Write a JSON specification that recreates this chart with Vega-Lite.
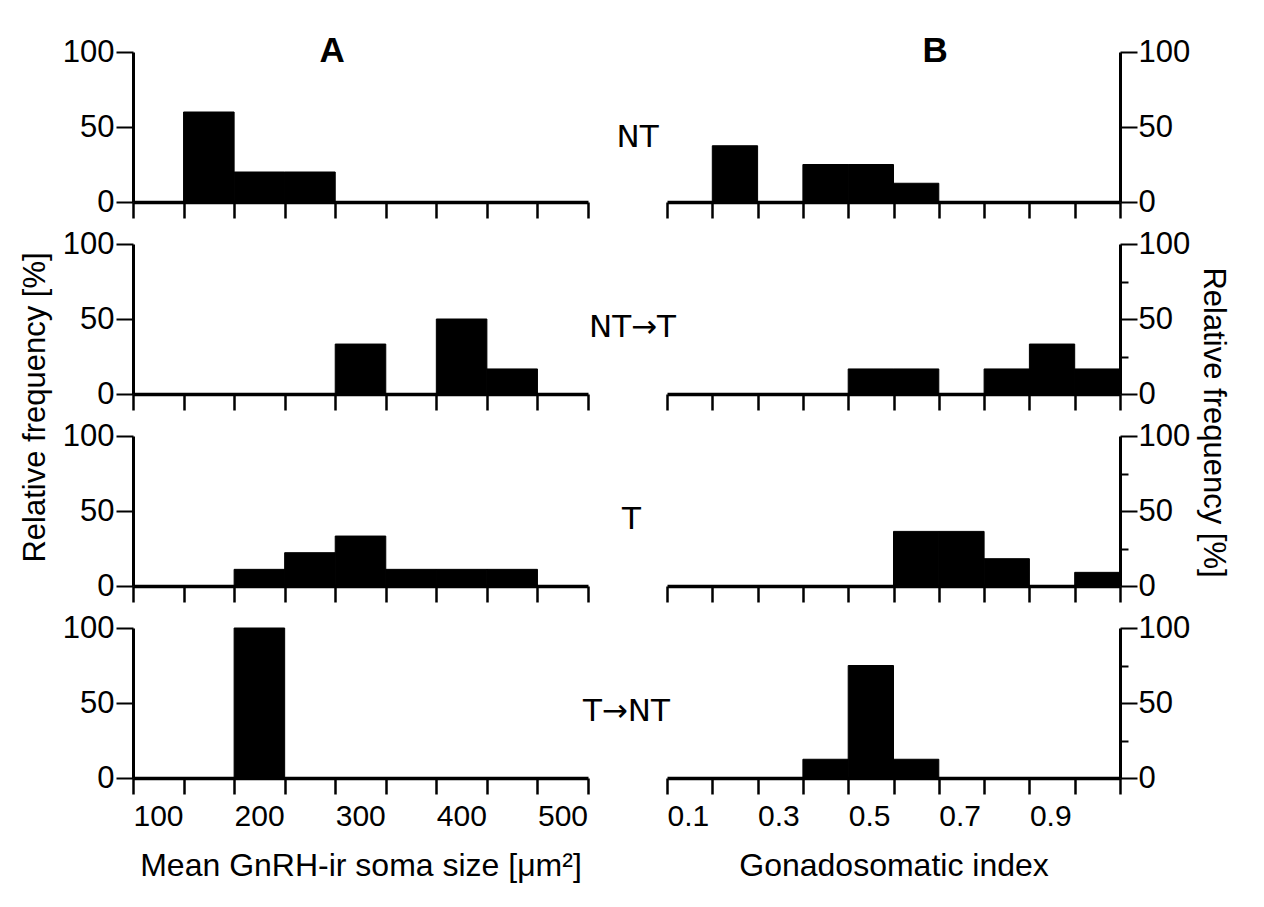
{
  "$schema": "https://vega.github.io/schema/vega-lite/v6.json",
  "padding": {"left": 19, "top": 33, "right": 14, "bottom": 8},
  "config": {
    "font": "Liberation Sans",
    "view": {"stroke": null},
    "axis": {"grid": false, "domainColor": "black", "tickColor": "black", "labelColor": "black", "titleColor": "black", "titleFontWeight": "normal", "labelFlush": false, "labelOverlap": false, "labelBound": false}
  },
  "datasets": {
    "soma": [
      {"g": "NT", "lo": 150, "hi": 200, "pct": 60},
      {"g": "NT", "lo": 200, "hi": 250, "pct": 20},
      {"g": "NT", "lo": 250, "hi": 300, "pct": 20},
      {"g": "NT→T", "lo": 300, "hi": 350, "pct": 33.3},
      {"g": "NT→T", "lo": 400, "hi": 450, "pct": 50},
      {"g": "NT→T", "lo": 450, "hi": 500, "pct": 16.7},
      {"g": "T", "lo": 200, "hi": 250, "pct": 11.1},
      {"g": "T", "lo": 250, "hi": 300, "pct": 22.2},
      {"g": "T", "lo": 300, "hi": 350, "pct": 33.3},
      {"g": "T", "lo": 350, "hi": 400, "pct": 11.1},
      {"g": "T", "lo": 400, "hi": 450, "pct": 11.1},
      {"g": "T", "lo": 450, "hi": 500, "pct": 11.1},
      {"g": "T→NT", "lo": 200, "hi": 250, "pct": 100}
    ],
    "gsi": [
      {"g": "NT", "lo": 0.2, "hi": 0.3, "pct": 37.5},
      {"g": "NT", "lo": 0.4, "hi": 0.5, "pct": 25},
      {"g": "NT", "lo": 0.5, "hi": 0.6, "pct": 25},
      {"g": "NT", "lo": 0.6, "hi": 0.7, "pct": 12.5},
      {"g": "NT→T", "lo": 0.5, "hi": 0.6, "pct": 16.7},
      {"g": "NT→T", "lo": 0.6, "hi": 0.7, "pct": 16.7},
      {"g": "NT→T", "lo": 0.8, "hi": 0.9, "pct": 16.7},
      {"g": "NT→T", "lo": 0.9, "hi": 1.0, "pct": 33.3},
      {"g": "NT→T", "lo": 1.0, "hi": 1.1, "pct": 16.7},
      {"g": "T", "lo": 0.6, "hi": 0.7, "pct": 36.4},
      {"g": "T", "lo": 0.7, "hi": 0.8, "pct": 36.4},
      {"g": "T", "lo": 0.8, "hi": 0.9, "pct": 18.2},
      {"g": "T", "lo": 1.0, "hi": 1.1, "pct": 9.1},
      {"g": "T→NT", "lo": 0.4, "hi": 0.5, "pct": 12.5},
      {"g": "T→NT", "lo": 0.5, "hi": 0.6, "pct": 75},
      {"g": "T→NT", "lo": 0.6, "hi": 0.7, "pct": 12.5}
    ]
  },
  "columns": 2,
  "spacing": {"row": 42, "column": 79},
  "bounds": "flush",
  "concat": [
    {
      "width": 455, "height": 150,
      "layer": [
        {"data": {"name": "soma"}, "transform": [{"filter": "datum.g === 'NT'"}],
         "mark": {"type": "rect", "color": "black", "stroke": "black", "strokeWidth": 1},
         "encoding": {
           "x": {"field": "lo", "type": "quantitative", "scale": {"domain": [100, 550], "nice": false, "zero": false},
                 "axis": {"values": [100,150,200,250,300,350,400,450,500,550], "labels": false, "title": null, "tickSize": 16, "tickWidth": 2.5, "domainWidth": 3.5}},
           "x2": {"field": "hi"},
           "y": {"field": "pct", "type": "quantitative", "scale": {"domain": [0, 100], "nice": false},
                 "axis": {"values": [0,25,50,75,100], "labelExpr": "datum.value % 50 === 0 ? datum.label : ''", "tickSize": {"condition": {"test": "datum.value % 50 === 0", "value": 17}, "value": 8}, "labelFontSize": 31, "labelPadding": 2, "title": null, "domainWidth": 3, "tickWidth": 2}},
           "y2": {"datum": 0}
         }},
        {"data": {"values": [{"label": "A"}]},
         "mark": {"type": "text", "fontSize": 35, "fontWeight": "bold", "baseline": "middle", "align": "center", "color": "black"},
         "encoding": {"x": {"datum": 297, "type": "quantitative"}, "y": {"datum": 101, "type": "quantitative"}, "text": {"field": "label"}}},
        {"data": {"values": [{"label": "NT"}]},
         "mark": {"type": "text", "font": "DejaVu Sans", "fontSize": 31, "baseline": "middle", "align": "center", "color": "black"},
         "encoding": {"x": {"datum": 599, "type": "quantitative"}, "y": {"datum": 43, "type": "quantitative"}, "text": {"field": "label"}}}
      ]
    },
    {
      "width": 453, "height": 150,
      "layer": [
        {"data": {"name": "gsi"}, "transform": [{"filter": "datum.g === 'NT'"}],
         "mark": {"type": "rect", "color": "black", "stroke": "black", "strokeWidth": 1},
         "encoding": {
           "x": {"field": "lo", "type": "quantitative", "scale": {"domain": [0.1, 1.1], "nice": false, "zero": false},
                 "axis": {"values": [0.1,0.2,0.3,0.4,0.5,0.6,0.7,0.8,0.9,1.0,1.1], "labels": false, "title": null, "tickSize": 16, "tickWidth": 2.5, "domainWidth": 3.5}},
           "x2": {"field": "hi"},
           "y": {"field": "pct", "type": "quantitative", "scale": {"domain": [0, 100], "nice": false},
                 "axis": {"orient": "right", "values": [0,25,50,75,100], "labelExpr": "datum.value % 50 === 0 ? datum.label : ''", "tickSize": {"condition": {"test": "datum.value % 50 === 0", "value": 17}, "value": 8}, "labelFontSize": 31, "labelPadding": 1, "title": null, "domainWidth": 3, "tickWidth": 2}},
           "y2": {"datum": 0}
         }},
        {"data": {"values": [{"label": "B"}]},
         "mark": {"type": "text", "fontSize": 35, "fontWeight": "bold", "baseline": "middle", "align": "center", "color": "black"},
         "encoding": {"x": {"datum": 0.692, "type": "quantitative"}, "y": {"datum": 101, "type": "quantitative"}, "text": {"field": "label"}}}
      ]
    },
    {
      "width": 455, "height": 150,
      "layer": [
        {"data": {"name": "soma"}, "transform": [{"filter": "datum.g === 'NT→T'"}],
         "mark": {"type": "rect", "color": "black", "stroke": "black", "strokeWidth": 1},
         "encoding": {
           "x": {"field": "lo", "type": "quantitative", "scale": {"domain": [100, 550], "nice": false, "zero": false},
                 "axis": {"values": [100,150,200,250,300,350,400,450,500,550], "labels": false, "title": null, "tickSize": 16, "tickWidth": 2.5, "domainWidth": 3.5}},
           "x2": {"field": "hi"},
           "y": {"field": "pct", "type": "quantitative", "scale": {"domain": [0, 100], "nice": false},
                 "axis": {"values": [0,25,50,75,100], "labelExpr": "datum.value % 50 === 0 ? datum.label : ''", "tickSize": {"condition": {"test": "datum.value % 50 === 0", "value": 17}, "value": 8}, "labelFontSize": 31, "labelPadding": 2, "title": "Relative frequency [%]", "titleFontSize": 31, "titleY": 163, "titlePadding": 11, "domainWidth": 3, "tickWidth": 2}},
           "y2": {"datum": 0}
         }},
        {"data": {"values": [{"label": "NT→T"}]},
         "mark": {"type": "text", "font": "DejaVu Sans", "fontSize": 31, "baseline": "middle", "align": "center", "color": "black"},
         "encoding": {"x": {"datum": 594, "type": "quantitative"}, "y": {"datum": 44, "type": "quantitative"}, "text": {"field": "label"}}}
      ]
    },
    {
      "width": 453, "height": 150,
      "layer": [
        {"data": {"name": "gsi"}, "transform": [{"filter": "datum.g === 'NT→T'"}],
         "mark": {"type": "rect", "color": "black", "stroke": "black", "strokeWidth": 1},
         "encoding": {
           "x": {"field": "lo", "type": "quantitative", "scale": {"domain": [0.1, 1.1], "nice": false, "zero": false},
                 "axis": {"values": [0.1,0.2,0.3,0.4,0.5,0.6,0.7,0.8,0.9,1.0,1.1], "labels": false, "title": null, "tickSize": 16, "tickWidth": 2.5, "domainWidth": 3.5}},
           "x2": {"field": "hi"},
           "y": {"field": "pct", "type": "quantitative", "scale": {"domain": [0, 100], "nice": false},
                 "axis": {"orient": "right", "values": [0,25,50,75,100], "labelExpr": "datum.value % 50 === 0 ? datum.label : ''", "tickSize": {"condition": {"test": "datum.value % 50 === 0", "value": 17}, "value": 8}, "labelFontSize": 31, "labelPadding": 1, "title": "Relative frequency [%]", "titleFontSize": 31, "titleY": 178, "titlePadding": 7, "domainWidth": 3, "tickWidth": 2}},
           "y2": {"datum": 0}
         }}
      ]
    },
    {
      "width": 455, "height": 150,
      "layer": [
        {"data": {"name": "soma"}, "transform": [{"filter": "datum.g === 'T'"}],
         "mark": {"type": "rect", "color": "black", "stroke": "black", "strokeWidth": 1},
         "encoding": {
           "x": {"field": "lo", "type": "quantitative", "scale": {"domain": [100, 550], "nice": false, "zero": false},
                 "axis": {"values": [100,150,200,250,300,350,400,450,500,550], "labels": false, "title": null, "tickSize": 16, "tickWidth": 2.5, "domainWidth": 3.5}},
           "x2": {"field": "hi"},
           "y": {"field": "pct", "type": "quantitative", "scale": {"domain": [0, 100], "nice": false},
                 "axis": {"values": [0,25,50,75,100], "labelExpr": "datum.value % 50 === 0 ? datum.label : ''", "tickSize": {"condition": {"test": "datum.value % 50 === 0", "value": 17}, "value": 8}, "labelFontSize": 31, "labelPadding": 2, "title": null, "domainWidth": 3, "tickWidth": 2}},
           "y2": {"datum": 0}
         }},
        {"data": {"values": [{"label": "T"}]},
         "mark": {"type": "text", "font": "DejaVu Sans", "fontSize": 31, "baseline": "middle", "align": "center", "color": "black"},
         "encoding": {"x": {"datum": 593, "type": "quantitative"}, "y": {"datum": 44, "type": "quantitative"}, "text": {"field": "label"}}}
      ]
    },
    {
      "width": 453, "height": 150,
      "layer": [
        {"data": {"name": "gsi"}, "transform": [{"filter": "datum.g === 'T'"}],
         "mark": {"type": "rect", "color": "black", "stroke": "black", "strokeWidth": 1},
         "encoding": {
           "x": {"field": "lo", "type": "quantitative", "scale": {"domain": [0.1, 1.1], "nice": false, "zero": false},
                 "axis": {"values": [0.1,0.2,0.3,0.4,0.5,0.6,0.7,0.8,0.9,1.0,1.1], "labels": false, "title": null, "tickSize": 16, "tickWidth": 2.5, "domainWidth": 3.5}},
           "x2": {"field": "hi"},
           "y": {"field": "pct", "type": "quantitative", "scale": {"domain": [0, 100], "nice": false},
                 "axis": {"orient": "right", "values": [0,25,50,75,100], "labelExpr": "datum.value % 50 === 0 ? datum.label : ''", "tickSize": {"condition": {"test": "datum.value % 50 === 0", "value": 17}, "value": 8}, "labelFontSize": 31, "labelPadding": 1, "title": null, "domainWidth": 3, "tickWidth": 2}},
           "y2": {"datum": 0}
         }}
      ]
    },
    {
      "width": 455, "height": 150,
      "layer": [
        {"data": {"name": "soma"}, "transform": [{"filter": "datum.g === 'T→NT'"}],
         "mark": {"type": "rect", "color": "black", "stroke": "black", "strokeWidth": 1},
         "encoding": {
           "x": {"field": "lo", "type": "quantitative", "scale": {"domain": [100, 550], "nice": false, "zero": false},
                 "axis": {"values": [100,150,200,250,300,350,400,450,500,550], "labelExpr": "datum.value % 100 === 0 && datum.value <= 500 ? datum.label : ''", "labelAlign": "left", "labelFontSize": 30, "labelPadding": 7, "title": "Mean GnRH-ir soma size [μm²]", "titleFontSize": 32, "titlePadding": 19, "tickSize": 16, "tickWidth": 2.5, "domainWidth": 3.5}},
           "x2": {"field": "hi"},
           "y": {"field": "pct", "type": "quantitative", "scale": {"domain": [0, 100], "nice": false},
                 "axis": {"values": [0,25,50,75,100], "labelExpr": "datum.value % 50 === 0 ? datum.label : ''", "tickSize": {"condition": {"test": "datum.value % 50 === 0", "value": 17}, "value": 8}, "labelFontSize": 31, "labelPadding": 2, "title": null, "domainWidth": 3, "tickWidth": 2}},
           "y2": {"datum": 0}
         }},
        {"data": {"values": [{"label": "T→NT"}]},
         "mark": {"type": "text", "font": "DejaVu Sans", "fontSize": 31, "baseline": "middle", "align": "center", "color": "black"},
         "encoding": {"x": {"datum": 588, "type": "quantitative"}, "y": {"datum": 44, "type": "quantitative"}, "text": {"field": "label"}}}
      ]
    },
    {
      "width": 453, "height": 150,
      "layer": [
        {"data": {"name": "gsi"}, "transform": [{"filter": "datum.g === 'T→NT'"}],
         "mark": {"type": "rect", "color": "black", "stroke": "black", "strokeWidth": 1},
         "encoding": {
           "x": {"field": "lo", "type": "quantitative", "scale": {"domain": [0.1, 1.1], "nice": false, "zero": false},
                 "axis": {"values": [0.1,0.2,0.3,0.4,0.5,0.6,0.7,0.8,0.9,1.0,1.1], "format": ".1f", "labelExpr": "indexof(['0.1','0.3','0.5','0.7','0.9'], datum.label) >= 0 ? datum.label : ''", "labelAlign": "left", "labelFontSize": 30, "labelPadding": 7, "title": "Gonadosomatic index", "titleFontSize": 32, "titlePadding": 19, "tickSize": 16, "tickWidth": 2.5, "domainWidth": 3.5}},
           "x2": {"field": "hi"},
           "y": {"field": "pct", "type": "quantitative", "scale": {"domain": [0, 100], "nice": false},
                 "axis": {"orient": "right", "values": [0,25,50,75,100], "labelExpr": "datum.value % 50 === 0 ? datum.label : ''", "tickSize": {"condition": {"test": "datum.value % 50 === 0", "value": 17}, "value": 8}, "labelFontSize": 31, "labelPadding": 1, "title": null, "domainWidth": 3, "tickWidth": 2}},
           "y2": {"datum": 0}
         }}
      ]
    }
  ]
}
